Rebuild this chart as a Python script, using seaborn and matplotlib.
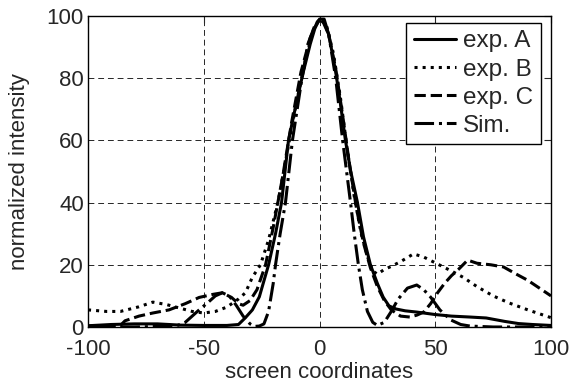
import seaborn as sns
import pandas as pd
import matplotlib
matplotlib.use('Agg')
import matplotlib.pyplot as plt

# exp. A (solid)
x_a = [-100, -90, -80, -70, -60, -50, -40, -35, -32, -29, -26, -22, -19, -16.4, -13.4, -10, -7, -4, -2, 0,
       2, 4, 7, 9, 11.2, 13.5, 16.4, 19, 22, 25, 27.5, 30, 33, 37, 42, 50, 57, 65, 72, 80, 86, 92, 100]
y_a = [0.4, 0.8, 1.0, 1.0, 0.6, 0.5, 0.5, 0.8, 3, 5.5, 9.7, 20, 30, 40, 60, 72, 82, 91, 96, 99,
       99, 94, 82, 72, 60, 50, 40, 29, 20, 14, 9.6, 6.8, 5.8, 5.2, 4.8, 4.0, 3.5, 3.2, 2.9, 1.8, 1.1, 0.8, 0.5]

# exp. B (dotted)
x_b = [-100, -92, -86, -78, -72, -66, -60, -55, -50, -45, -40, -35, -32, -29, -25.5, -22, -18, -14, -10, -6, -3, 0,
       3, 6, 9, 12, 15, 18, 21, 23, 25, 28, 31, 35, 40.6, 45, 49, 53, 57, 62, 68, 75, 82, 90, 100]
y_b = [5.5, 5, 5, 6.5, 8, 7.2, 6, 5, 4.5, 5, 6.4, 9, 11, 16, 20, 28, 40, 56, 72, 86, 95, 99,
       97, 88, 74, 57, 42, 30, 22, 18, 17, 18.5, 19.5, 21, 23.5, 22.5, 21, 19.5, 18, 16, 13, 10, 7.7, 5.5, 3]

# exp. C (dashed)
x_c = [-100, -90, -86, -84, -78, -72, -65, -58, -52, -46, -42, -38, -35, -33, -30, -27, -23.3, -20, -16, -12, -8, -4, -1,
       1, 4, 7, 10, 13, 16, 19, 22, 25, 28, 31, 35, 39, 42, 45, 48, 51, 54, 57, 60, 64, 68, 74, 79.5, 85, 90, 95, 100]
y_c = [0.3, 0.3, 0.5, 2, 3.5, 4.5, 5.5, 7.5, 9.5, 10.5, 11, 9.5, 7.5, 7, 8.5, 12, 20, 32, 48, 66, 82, 93, 98,
       99, 94, 83, 68, 52, 38, 27, 19, 13, 8.5, 5.5, 3.5, 3.2, 3.8, 4.8, 7.5, 11, 14, 16.5, 18.5, 21.5, 20.5, 20, 19.3, 17, 15, 12.5, 10]

# Sim. (dash-dot)
x_s = [-100, -80, -62, -58, -55, -52, -48, -45, -42, -39, -36, -33, -30, -28, -26, -24, -22, -20, -19, -17, -14.7, -11.7,
       -8, -5, -2, 0, 2, 4, 7, 10, 13.4, 15, 16.8, 18.5, 20.7, 23, 25, 28, 31, 34, 38, 42, 45, 48, 52, 56.6, 61, 65, 75, 100]
y_s = [0, 0, 0.3, 1.5, 3.5, 5.5, 8, 10, 11, 10, 7, 3.5, 1, 0.2, 0.3, 1, 5, 14, 20, 30, 40, 60,
       78, 91, 97, 99, 98, 94, 80, 60, 40, 30, 20, 12, 5, 1.5, 0.5, 1.5, 5, 9, 12.5, 13.5, 12, 9.6, 5.5, 2.3, 0.8, 0.3, 0, 0]

labels = ['exp. A', 'exp. B', 'exp. C', 'Sim.']
styles = ['-', ':', '--', '-.']

sns.set_style('white')
plt.rcParams['font.family'] = ['Liberation Sans', 'DejaVu Sans']
plt.rcParams['axes.unicode_minus'] = False

fig, ax = plt.subplots(figsize=(5.73, 3.89), dpi=100)
fig.subplots_adjust(left=0.1536, right=0.9616, bottom=0.1594, top=0.9589)

for xs, ys, lab, ls in zip([x_a, x_b, x_c, x_s], [y_a, y_b, y_c, y_s], labels, styles):
    df = pd.DataFrame({'x': xs, 'y': ys})
    sns.lineplot(data=df, x='x', y='y', ax=ax, color='black', linestyle=ls, linewidth=2.2, label=lab)

ax.set_xlim(-100, 100)
ax.set_ylim(0, 100)
ax.set_xticks([-100, -50, 0, 50, 100])
ax.set_yticks([0, 20, 40, 60, 80, 100])
ax.grid(True, color='0.15', linestyle=(0, (6, 4)), linewidth=0.7)
ax.tick_params(direction='in', top=True, right=True, length=5, width=0.8, labelsize=16)
ax.tick_params(axis='x', pad=9)
ax.tick_params(axis='y', pad=3)
for s in ax.spines.values():
    s.set_color('black')
    s.set_linewidth(1)
ax.set_xlabel('screen coordinates', fontsize=16, labelpad=1)
ax.set_ylabel('normalized intensity', fontsize=16, labelpad=12)

leg = ax.legend(loc='upper right', bbox_to_anchor=(0.978, 0.977), borderaxespad=0, fontsize=17.5,
                frameon=True, fancybox=False, framealpha=1, edgecolor='black', handlelength=1.75,
                handletextpad=0.3, labelspacing=0.25, borderpad=0.3)
leg.get_frame().set_linewidth(1)

fig.savefig('out.png', dpi=100)
